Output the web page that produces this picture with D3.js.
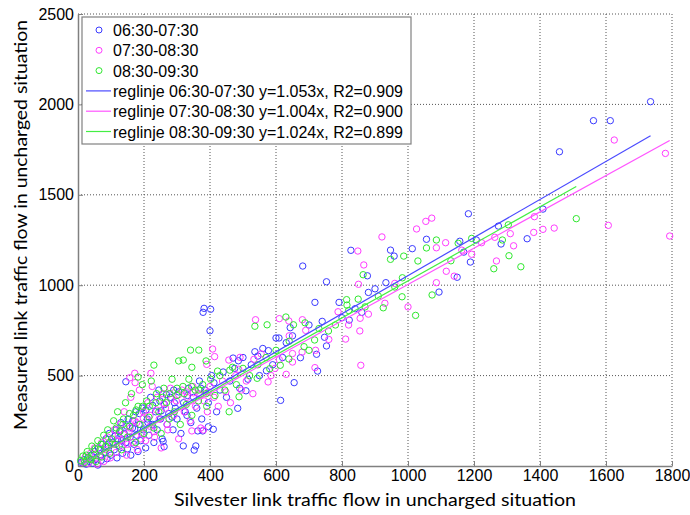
<!DOCTYPE html>
<html>
<head>
<meta charset="utf-8">
<script src="https://cdn.jsdelivr.net/npm/d3@7"></script>
<style>
  body { margin: 0; background: #fff; }
  svg { display: block; }
</style>
</head>
<body>
<div id="chart"></div>
<script>
// series labels and fit parameters
const seriesNames = ["06:30-07:30", "07:30-08:30", "08:30-09:30"];
const slopes = [1.053, 1.004, 1.024];
const r2 = ["0.909", "0.900", "0.899"];
const xTicks = [0, 200, 400, 600, 800, 1000, 1200, 1400, 1600, 1800];
const yTicks = [0, 500, 1000, 1500, 2000, 2500];

// [Silvester flow, measured flow]
const blue = [
  [1735,2015],[1562,1910],[1613,1910],[1459,1738],[1409,1421],[1361,1257],[1282,1228],[1274,1327],
  [1207,1250],[1183,1395],[1189,1128],[1169,1183],[1157,1243],[1149,1044],[1094,962],[1056,1254],
  [1013,1202],[958,1161],[947,1194],[933,1014],[877,1052],[860,850],[827,1193],[822,807],[791,905],
  [753,1019],[718,905],[753,664],[747,712],[723,618],[726,525],[681,1106],[674,599],[643,765],
  [631,682],[609,708],[600,708],[614,363],[655,461],[577,638],[545,608],[536,632],[571,527],
  [509,416],[484,319],[470,597],[486,582],[402,867],[382,872],[379,850],[400,748],[410,203],
  [378,194],[395,217],[363,194],[352,88],[357,111],[319,111],[258,136],[261,107],[145,466],
  [10,20],[18,35],[25,10],[30,45],[35,25],[40,60],[45,15],[50,80],[55,40],[60,5],[62,100],[68,55],
  [70,30],[75,120],[80,75],[85,150],[88,40],[92,110],[95,180],[100,60],[105,130],[110,90],[115,200],
  [118,45],[120,150],[125,110],[130,240],[135,70],[140,180],[145,130],[150,95],[152,260],[158,160],
  [160,60],[165,210],[170,120],[175,300],[178,170],[182,80],[185,230],[190,140],[195,320],[198,200],
  [205,100],[210,260],[215,170],[220,380],[225,230],[230,130],[235,300],[240,200],[245,420],[250,260],
  [255,150],[262,340],[270,230],[275,290],[280,380],[288,200],[295,320],[300,260],[305,410],[312,180],
  [320,350],[330,280],[335,430],[342,240],[350,380],[360,320],[368,470],[375,260],[385,420],[395,350],
  [405,500],[420,300],[430,420],[440,520],[450,380],[460,470],[475,540],[490,430],[500,600],[515,480],
  [525,560],[550,500],[560,650],[590,560],[620,600],[650,720],[700,780],[740,800],[800,820],[840,870],
  [880,960],[900,980],
  [112,165],[128,195],[148,220],[166,250],[186,290],[206,310],[226,335],[248,360],[268,395],[290,420],
  [132,140],[172,205],[212,240],[252,305],[292,350],[332,390],[372,430],[412,460],[285,270],[325,300]
];
const magenta = [
  [1793,1272],[1780,1729],[1625,1803],[1607,1331],[1443,1316],[1409,1309],[1383,1379],[1381,1292],
  [1320,1218],[1310,1285],[1268,1134],[1263,1265],[1223,1235],[1193,1171],[1163,1194],[1116,1077],
  [1114,1235],[1086,1207],[1086,1014],[1072,1371],[1054,1353],[1026,1311],[921,1267],[866,1112],
  [848,1189],[850,1005],[855,817],[857,557],[854,747],[811,702],[788,853],[718,544],[680,809],
  [679,630],[650,622],[650,575],[639,802],[631,507],[610,815],[610,588],[597,540],[576,465],
  [538,809],[533,590],[491,601],[487,535],[457,586],[414,605],[408,647],[390,562],[380,199],
  [345,194],[221,513],[172,513],[157,488],[173,461],
  [15,20],[22,50],[30,15],[38,70],[45,35],[50,100],[58,10],[65,60],[72,130],[78,25],[85,90],[90,160],
  [98,45],[104,120],[110,200],[115,75],[122,170],[128,230],[135,110],[140,300],[147,60],[155,190],
  [160,380],[165,130],[172,250],[180,90],[186,420],[192,180],[198,300],[205,140],[212,350],[218,220],
  [225,440],[232,160],[240,380],[246,260],[252,100],[258,400],[265,320],[272,200],[280,430],[290,280],
  [298,360],[305,150],[315,420],[322,300],[330,380],[340,250],[348,440],[356,330],[365,400],[372,210],
  [382,360],[392,300],[400,440],[412,380],[425,330],[438,470],[448,410],[462,350],[478,500],[495,420],
  [510,470],[530,400],[555,620],[585,500],[640,720],[690,750],[720,640],[760,700],[820,780],[880,840],
  [930,900],[960,1010],[1000,880],[1140,1050],
  [118,140],[138,175],[158,210],[178,240],[198,265],[218,280],[238,310],[260,345],[282,370],[305,395],
  [328,410],[350,405],[372,395],[395,410],[150,120],[190,150],[230,190],[270,230]
];
const green = [
  [1510,1368],[1342,1102],[1306,1163],[1304,1334],[1286,1250],[1260,1091],[1193,1259],[1152,1232],
  [1130,1135],[1086,1250],[1073,946],[1056,1206],[1030,1134],[1023,833],[987,1161],[983,1041],
  [982,936],[947,1143],[925,875],[864,1058],[849,923],[815,890],[814,920],[759,747],[717,697],
  [688,792],[685,660],[653,781],[639,592],[630,824],[613,557],[581,538],[573,781],[543,485],
  [536,773],[488,383],[468,546],[458,300],[423,525],[388,581],[366,641],[341,641],[345,546],
  [319,586],[305,581],[230,558],[182,492],
  [8,30],[15,55],[20,20],[28,80],[35,40],[42,110],[48,60],[55,25],[60,140],[66,90],[72,50],[78,170],
  [84,110],[90,200],[96,70],[102,150],[108,250],[114,120],[120,300],[126,190],[132,90],[138,260],
  [144,350],[150,160],[156,220],[162,400],[168,280],[175,130],[182,330],[188,230],[195,450],[200,180],
  [208,360],[215,270],[222,470],[230,210],[238,400],[245,300],[252,180],[260,430],[268,350],[276,260],
  [285,480],[292,300],[300,390],[310,230],[318,440],[328,340],[336,480],[345,280],[355,420],[365,360],
  [378,450],[390,330],[402,480],[415,390],[430,500],[445,420],[460,530],[480,450],[500,540],[520,500],
  [545,560],[570,600],[600,640],[640,690],[700,640],[730,760],[780,780],[820,860],[870,880],[910,940],
  [960,990],
  [25,60],[40,35],[52,95],[70,120],[95,130],[116,210],[136,230],[156,290],[176,310],[196,330],
  [216,330],[236,350],[256,380],[278,400],[300,430],[322,400],[344,440],[366,420],[388,400]
];

const colors = ["#3a3aff", "#ff3cff", "#2ee82e"];
const lineColors = ["#4a4aff", "#ff55ff", "#44ee44"];
const allSeries = [blue, magenta, green];
const tickFont = "'Liberation Sans', Arial, sans-serif";
const titleFont = "Lato, 'Open Sans', sans-serif";

const W = 690, H = 515;
const margin = {top: 14, right: 18, bottom: 49, left: 78};
const width = W - margin.left - margin.right,
      height = H - margin.top - margin.bottom;

const svg = d3.select("#chart").append("svg")
  .attr("width", W).attr("height", H);

const x = d3.scaleLinear().domain([0, 1800]).range([0, width]);
const y = d3.scaleLinear().domain([0, 2500]).range([height, 0]);

const plot = svg.append("g")
  .attr("transform", "translate(" + margin.left + "," + margin.top + ")");

// dotted grid
plot.append("g").selectAll("line")
  .data(xTicks.slice(1)).join("line")
  .attr("x1", d => x(d)).attr("x2", d => x(d))
  .attr("y1", 0).attr("y2", height)
  .attr("stroke", "#555").attr("stroke-dasharray", "1,2");
plot.append("g").selectAll("line")
  .data(yTicks.slice(1)).join("line")
  .attr("x1", 0).attr("x2", width)
  .attr("y1", d => y(d)).attr("y2", d => y(d))
  .attr("stroke", "#555").attr("stroke-dasharray", "1,2");

// axes
const xAxis = plot.append("g")
  .attr("transform", "translate(0," + height + ")")
  .call(d3.axisBottom(x).tickValues(xTicks).tickFormat(d3.format("d"))
    .tickSizeInner(-5).tickSizeOuter(0).tickPadding(4));
const yAxis = plot.append("g")
  .call(d3.axisLeft(y).tickValues(yTicks).tickFormat(d3.format("d"))
    .tickSizeInner(-5).tickSizeOuter(0).tickPadding(4));

[xAxis, yAxis].forEach(a => {
  a.attr("font-family", tickFont).attr("font-size", 16);
  a.select(".domain").attr("stroke", "#808080").attr("stroke-width", 1.5);
  a.selectAll(".tick line").attr("stroke", "#808080");
  a.selectAll(".tick text").attr("fill", "#000");
});

// points
allSeries.forEach((data, i) => {
  plot.append("g").selectAll("circle")
    .data(data).join("circle")
    .attr("cx", d => x(d[0]))
    .attr("cy", d => y(d[1]))
    .attr("r", 3.2)
    .attr("fill", "none")
    .attr("stroke", colors[i])
    .attr("stroke-width", 1);
});

// regression lines through origin
allSeries.forEach((data, i) => {
  const [x0, x1] = d3.extent(data, d => d[0]);
  plot.append("line")
    .attr("x1", x(x0)).attr("y1", y(slopes[i] * x0))
    .attr("x2", x(x1)).attr("y2", y(slopes[i] * x1))
    .attr("stroke", lineColors[i]).attr("stroke-width", 1.2);
});

// legend
const legend = svg.append("g").attr("transform", "translate(82,17)")
  .attr("font-family", tickFont).attr("font-size", 16);
legend.append("rect")
  .attr("width", 329).attr("height", 127)
  .attr("fill", "#fff").attr("stroke", "#808080").attr("stroke-width", 1.2);

const rowH = 20.3;
seriesNames.forEach((name, i) => {
  const row = legend.append("g").attr("transform", "translate(0," + (13 + i * rowH) + ")");
  row.append("circle").attr("cx", 17).attr("cy", 0).attr("r", 3)
    .attr("fill", "none").attr("stroke", colors[i]);
  row.append("text").attr("x", 31).attr("y", 6).text(name);
});
seriesNames.forEach((name, i) => {
  const row = legend.append("g").attr("transform", "translate(0," + (13 + (i + 3) * rowH) + ")");
  row.append("line").attr("x1", 4).attr("x2", 29)
    .attr("stroke", lineColors[i]).attr("stroke-width", 1.2);
  row.append("text").attr("x", 31).attr("y", 6)
    .text("reglinje " + name + " y=" + slopes[i].toFixed(3) + "x, R2=" + r2[i]);
});

// axis titles
svg.append("text")
  .attr("x", margin.left + width / 2).attr("y", 506)
  .attr("text-anchor", "middle")
  .attr("font-family", titleFont).attr("font-size", 18)
  .attr("textLength", 402).attr("lengthAdjust", "spacingAndGlyphs")
  .text("Silvester link traffic flow in uncharged situation");
svg.append("text")
  .attr("transform", "translate(27,225) rotate(-90)")
  .attr("text-anchor", "middle")
  .attr("font-family", titleFont).attr("font-size", 18)
  .attr("textLength", 410).attr("lengthAdjust", "spacingAndGlyphs")
  .text("Measured link traffic flow in uncharged situation");
</script>
</body>
</html>
